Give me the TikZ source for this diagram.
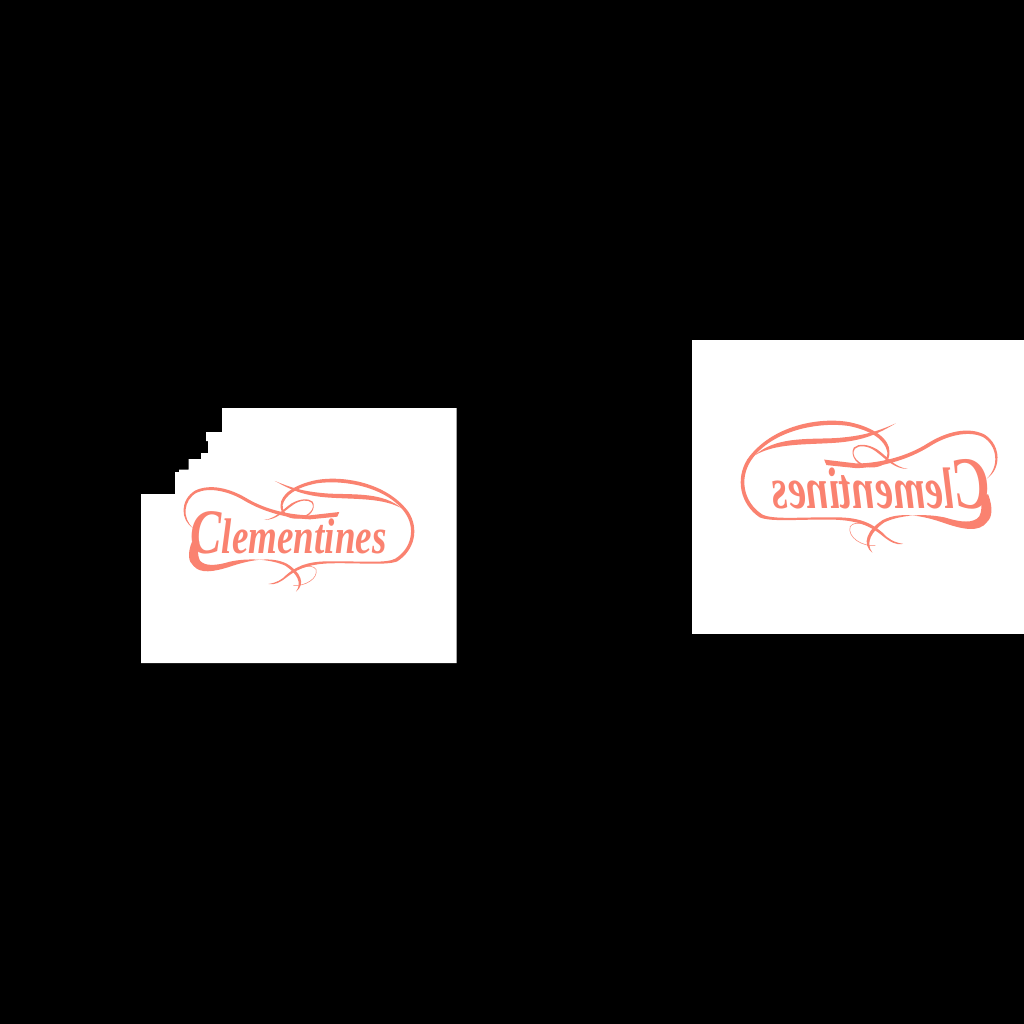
\documentclass[tikz,border=0pt]{standalone}
\usepackage{amsmath, amssymb}
\usepackage{fontspec}
\newfontfamily\logoface{Liberation Serif}
\definecolor{salmonink}{HTML}{FA8270}
\newcommand{\clementines}{
  % lettering
  \node[wordmark, anchor=base west] (word) at (182,462) {{\fontsize{190}{190}\selectfont C}lementines};
  % top swash of the C
  \fill[salmonink] (190,385) .. controls (150,360) and (150,300) .. (195,272)
    .. controls (240,250) and (300,265) .. (350,295)
    .. controls (400,325) and (470,345) .. (540,346) -- (628,336) -- (622,350) -- (540,358)
    .. controls (470,355) and (400,335) .. (345,303)
    .. controls (300,275) and (240,260) .. (200,278)
    .. controls (160,300) and (155,355) .. (190,385) -- cycle;
  % big loop
  \fill[salmonink] (402,360) .. controls (440,360) and (460,335) .. (490,314)
    .. controls (510,300) and (535,298) .. (545,308)
    .. controls (558,325) and (535,350) .. (505,352)
    .. controls (470,352) and (455,335) .. (458,315)
    .. controls (465,285) and (500,262) .. (560,250)
    .. controls (640,238) and (770,260) .. (825,338)
    .. controls (858,385) and (845,445) .. (796,476)
    .. controls (770,491) and (690,483) .. (600,484)
    .. controls (550,484) and (510,490) .. (470,524)
    .. controls (455,540) and (440,548) .. (415,552)
    .. controls (435,556) and (450,547) .. (470,532)
    .. controls (510,500) and (550,492) .. (600,490)
    .. controls (690,488) and (770,497) .. (802,484)
    .. controls (855,450) and (868,385) .. (835,335)
    .. controls (770,248) and (640,226) .. (560,240)
    .. controls (490,254) and (452,285) .. (452,315)
    .. controls (450,340) and (470,358) .. (505,356)
    .. controls (540,354) and (560,325) .. (548,305)
    .. controls (535,294) and (510,296) .. (485,310)
    .. controls (455,330) and (440,355) .. (402,360) -- cycle;
  % inner line at the top
  \fill[salmonink] (435,243) .. controls (480,262) and (520,276) .. (600,281)
    .. controls (680,284) and (760,278) .. (815,325)
    .. controls (760,294) and (680,298) .. (600,293)
    .. controls (520,288) and (480,268) .. (435,243) -- cycle;
  % foot of the C
  \fill[salmonink] (186,425) .. controls (172,460) and (175,485) .. (190,497)
    .. controls (210,522) and (250,516) .. (300,500)
    .. controls (350,483) and (420,466) .. (470,491)
    .. controls (512,516) and (528,552) .. (498,575)
    .. controls (518,548) and (500,520) .. (466,497)
    .. controls (420,476) and (350,474) .. (300,485)
    .. controls (260,497) and (225,500) .. (210,482)
    .. controls (203,470) and (202,450) .. (208,425) -- cycle;
  % small loop below
  \draw[hairline] (472,525) .. controls (500,505) and (545,488) .. (558,508)
    .. controls (566,535) and (525,560) .. (490,556);
}
\begin{document}
\begin{tikzpicture}[
  x=1pt, y=-1pt,
  wordmark/.style={text=salmonink, inner sep=0pt, transform shape, xscale=0.74,
                   font=\logoface\bfseries\itshape\fontsize{150}{150}\selectfont},
  hairline/.style={salmonink, line width=0.5pt},
  sheet/.style={fill=white},
]

\fill[black] (0,0) rectangle (1024,1024);

% torn sheet
\fill[sheet] (456.5,408) -- (222,408) -- (222,432) -- (206,432) -- (206,441) -- (208,441)
  -- (208,453) -- (201,453) -- (201,459) -- (188.5,459) -- (188.5,469.5) -- (179,469.5)
  -- (179,472) -- (175,472) -- (175,494) -- (141,494) -- (141,663) -- (456.5,663) -- cycle;

% mirrored sheet
\fill[sheet] (692,340) rectangle (1024,634);

\begin{scope}[shift={(130,400)}, scale=0.3333]
  \clementines
\end{scope}

\begin{scope}[shift={(1057.08,328.57)}, xscale=-0.3709, yscale=0.39]
  \clementines
\end{scope}

\end{tikzpicture}
\end{document}
